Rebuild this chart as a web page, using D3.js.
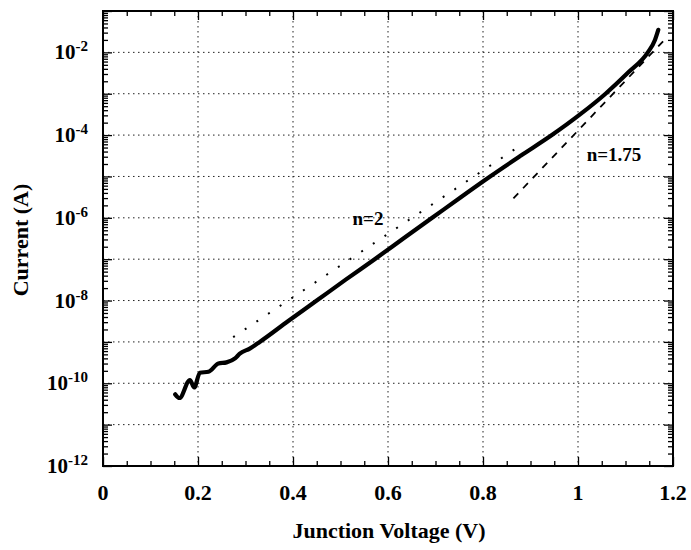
<!DOCTYPE html>
<html>
<head>
<meta charset="utf-8">
<script src="https://cdn.jsdelivr.net/npm/d3@7/dist/d3.min.js"></script>
<style>
  html, body { margin: 0; padding: 0; background: #fff; }
  svg { display: block; }
  text { font-family: "Liberation Serif", "Times New Roman", serif; font-weight: bold; fill: #000; }
</style>
</head>
<body>
<svg id="chart" width="691" height="550"></svg>
<script>
// ---- data ----
const voltage = [0.152, 0.161, 0.183, 0.192, 0.204, 0.222, 0.243, 0.260, 0.278, 0.288,
                 0.309, 0.330, 0.390, 0.450, 0.511, 0.572, 0.633, 0.693, 0.754, 0.815,
                 0.880, 0.945, 1.005, 1.058, 1.105, 1.147, 1.162, 1.169];
const current = [5.4e-11, 4.4e-11, 1.2e-10, 7.9e-11, 1.8e-10, 1.9e-10, 3.0e-10, 3.2e-10, 4.0e-10, 5.2e-10,
                 6.9e-10, 1.0e-9, 3.2e-9, 1.0e-8, 3.2e-8, 1.0e-7, 3.2e-7, 1.0e-6, 3.2e-6, 1.0e-5,
                 3.2e-5, 1.0e-4, 3.2e-4, 1.0e-3, 3.2e-3, 1.0e-2, 2.0e-2, 3.5e-2];
// ideality fit lines (endpoints)
const fitN2V = [0.274, 0.87];
const fitN2I = [1.3e-9, 4.8e-5];
const fitN175V = [0.864, 1.18];
const fitN175I = [2.95e-6, 1.9e-2];

const xTickValues = [0, 0.2, 0.4, 0.6, 0.8, 1.0, 1.2];
const xTickLabels = ["0", "0.2", "0.4", "0.6", "0.8", "1", "1.2"];
const yLabelExponents = [-2, -4, -6, -8, -10, -12];
const xTitle = "Junction Voltage (V)";
const yTitle = "Current (A)";
const annN2 = "n=2";
const annN175 = "n=1.75";

// ---- layout ----
const L = 103, R = 673, T = 11, B = 466;
const svg = d3.select("#chart");
const x = d3.scaleLinear().domain([0, 1.2]).range([L, R]);
const y = d3.scaleLog().domain([1e-12, 1e-1]).range([B, T]);

const decades = d3.range(-12, 0).map(e => Math.pow(10, e));
const minorY = [];
d3.range(-12, -1).forEach(e => { for (let k = 2; k <= 9; k++) minorY.push(k * Math.pow(10, e)); });
const minorX = d3.range(0, 24).map(i => i * 0.05).filter(v => Math.abs(v * 5 - Math.round(v * 5)) > 1e-6);

// grid
const grid = svg.append("g").attr("stroke", "#222").attr("stroke-width", 1).attr("stroke-dasharray", "1.5,3.5");
grid.selectAll("line.v").data(xTickValues.slice(1, -1)).join("line")
  .attr("x1", d => x(d)).attr("x2", d => x(d)).attr("y1", T).attr("y2", B);
grid.selectAll("line.h").data(decades.slice(1)).join("line")
  .attr("x1", L).attr("x2", R).attr("y1", d => y(d)).attr("y2", d => y(d));

// axes (inward ticks)
function styleAxis(g) { g.select(".domain").remove(); g.selectAll("line").attr("stroke", "#000").attr("stroke-width", 1.3); g.selectAll("text").remove(); }
svg.append("g").attr("transform", `translate(0,${B})`).call(d3.axisBottom(x).tickValues(xTickValues).tickSize(-9)).call(styleAxis);
svg.append("g").attr("transform", `translate(0,${B})`).call(d3.axisBottom(x).tickValues(minorX).tickSize(-5)).call(styleAxis);
svg.append("g").attr("transform", `translate(0,${T})`).call(d3.axisTop(x).tickValues(xTickValues).tickSize(-9)).call(styleAxis);
svg.append("g").attr("transform", `translate(0,${T})`).call(d3.axisTop(x).tickValues(minorX).tickSize(-5)).call(styleAxis);
svg.append("g").attr("transform", `translate(${L},0)`).call(d3.axisLeft(y).tickValues(decades).tickSize(-9)).call(styleAxis);
svg.append("g").attr("transform", `translate(${L},0)`).call(d3.axisLeft(y).tickValues(minorY).tickSize(-5)).call(styleAxis);
svg.append("g").attr("transform", `translate(${R},0)`).call(d3.axisRight(y).tickValues(decades).tickSize(-9)).call(styleAxis);
svg.append("g").attr("transform", `translate(${R},0)`).call(d3.axisRight(y).tickValues(minorY).tickSize(-5)).call(styleAxis);

// frame
svg.append("rect").attr("x", L).attr("y", T).attr("width", R - L).attr("height", B - T)
  .attr("fill", "none").attr("stroke", "#000").attr("stroke-width", 2);

// fit lines
const line = d3.line().x(d => x(d[0])).y(d => y(d[1]));
svg.append("path").datum(d3.zip(fitN2V, fitN2I)).attr("d", line)
  .attr("fill", "none").attr("stroke", "#000").attr("stroke-width", 2).attr("stroke-dasharray", "2,12");
svg.append("path").datum(d3.zip(fitN175V, fitN175I)).attr("d", line)
  .attr("fill", "none").attr("stroke", "#000").attr("stroke-width", 1.8).attr("stroke-dasharray", "7,7");

// main curve
svg.append("path").datum(d3.zip(voltage, current))
  .attr("d", d3.line().x(d => x(d[0])).y(d => y(d[1])).curve(d3.curveMonotoneX))
  .attr("fill", "none").attr("stroke", "#000").attr("stroke-width", 4.2)
  .attr("stroke-linejoin", "round").attr("stroke-linecap", "round");

// x tick labels
svg.append("g").selectAll("text").data(xTickValues).join("text")
  .attr("x", d => x(d)).attr("y", 500).attr("text-anchor", "middle").attr("font-size", 22)
  .text((d, i) => xTickLabels[i]);

// y tick labels
const yl = svg.append("g").selectAll("text").data(yLabelExponents).join("text")
  .attr("x", 88).attr("y", d => y(Math.pow(10, d)) + 7).attr("text-anchor", "end");
yl.append("tspan").attr("font-size", 21).text("10");
yl.append("tspan").attr("font-size", 15).attr("dy", -8).text(d => String(d));

// titles
svg.append("text").attr("x", 389).attr("y", 538).attr("text-anchor", "middle").attr("font-size", 22).text(xTitle);
svg.append("text").attr("transform", "translate(28,240) rotate(-90)").attr("text-anchor", "middle").attr("font-size", 22).text(yTitle);

// annotations
svg.append("text").attr("x", 368).attr("y", 225).attr("text-anchor", "middle").attr("font-size", 19).text(annN2);
svg.append("text").attr("x", 614).attr("y", 161).attr("text-anchor", "middle").attr("font-size", 19).text(annN175);
</script>
</body>
</html>
